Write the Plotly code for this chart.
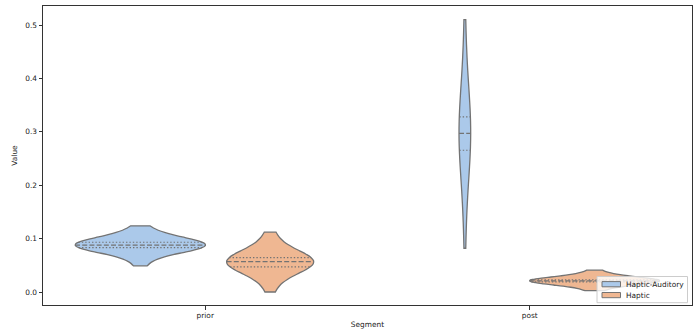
import numpy as np
import plotly.graph_objects as go

# ---------------- data ----------------
segments = ["prior", "post"]
groups = ["Haptic-Auditory", "Haptic"]

ha_prior = [0.049, 0.066, 0.072, 0.077, 0.080, 0.082, 0.0835, 0.085, 0.086, 0.087,
            0.0875, 0.0878, 0.0882, 0.089, 0.090, 0.091, 0.092, 0.093, 0.094, 0.097,
            0.101, 0.106, 0.112, 0.124]
h_prior = [0.000, 0.022, 0.031, 0.038, 0.042, 0.045, 0.048, 0.050, 0.052, 0.054,
           0.055, 0.0565, 0.0575, 0.059, 0.060, 0.062, 0.063, 0.064, 0.066, 0.070,
           0.076, 0.084, 0.094, 0.112]
ha_post = [0.082, 0.150, 0.185, 0.215, 0.240, 0.258, 0.268, 0.276, 0.283, 0.289,
           0.294, 0.296, 0.298, 0.303, 0.309, 0.316, 0.322, 0.326, 0.334, 0.352,
           0.378, 0.405, 0.440, 0.510]
h_post = [0.0025, 0.0085, 0.012, 0.0145, 0.0165, 0.0185, 0.0192, 0.0198, 0.0202, 0.0206,
          0.0209, 0.0210, 0.0211, 0.0214, 0.0218, 0.0221, 0.0223, 0.0225, 0.0232, 0.0250,
          0.0275, 0.0300, 0.0340, 0.0410]

y_ticks = [0.0, 0.1, 0.2, 0.3, 0.4, 0.5]
y_tick_labels = ["0.0", "0.1", "0.2", "0.3", "0.4", "0.5"]

values = {
    ("Haptic-Auditory", "prior"): ha_prior,
    ("Haptic", "prior"): h_prior,
    ("Haptic-Auditory", "post"): ha_post,
    ("Haptic", "post"): h_post,
}

# ---------------- style ----------------
FONT = "DejaVu Sans"
FS = 7.4
TXT = "#222222"
fill_colors = {"Haptic-Auditory": "#abc9ea", "Haptic": "#efb792"}
line_color = "#737373"
dodge = {"Haptic-Auditory": -0.2, "Haptic": 0.2}
violin_width = {
    ("Haptic-Auditory", "prior"): 0.40,
    ("Haptic", "prior"): 0.267,
    ("Haptic-Auditory", "post"): 0.036,
    ("Haptic", "post"): 0.40,
}
bandwidth = {
    ("Haptic-Auditory", "prior"): 0.0125,
    ("Haptic", "prior"): 0.018,
    ("Haptic-Auditory", "post"): 0.075,
    ("Haptic", "post"): 0.0066,
}


def rel_density(vals, bw, ys):
    """Relative KDE width, following plotly.js violin sampling (hard span)."""
    v = np.asarray(vals, dtype=float)
    lo, hi = v.min(), v.max()
    n = int(np.ceil((hi - lo) / (bw / 3.0)))
    grid = lo + (hi - lo) / n * np.arange(n + 1)

    def kde(t):
        t = np.atleast_1d(np.asarray(t, dtype=float))
        return np.exp(-0.5 * ((t[:, None] - v[None, :]) / bw) ** 2).sum(axis=1)

    return kde(ys) / kde(grid).max()


fig = go.Figure()

# violin bodies
for si, seg in enumerate(segments):
    for g in groups:
        key = (g, seg)
        fig.add_trace(go.Violin(
            y=values[key],
            x0=si + dodge[g],
            name=g,
            showlegend=False,
            width=violin_width[key],
            bandwidth=bandwidth[key],
            spanmode="hard",
            scalemode="width",
            side="both",
            points=False,
            box_visible=False,
            meanline_visible=False,
            fillcolor=fill_colors[g],
            line=dict(color=line_color, width=1.3),
            opacity=1,
            hoverinfo="skip",
        ))

# inner quartile lines
for si, seg in enumerate(segments):
    for g in groups:
        key = (g, seg)
        qs = np.percentile(values[key], [25, 50, 75])
        rel = rel_density(values[key], bandwidth[key], qs)
        c = si + dodge[g]
        for q, r, dash in zip(qs, rel, ["1.4px,2px", "5px,2.2px", "1.4px,2px"]):
            hw = violin_width[key] / 2 * r
            fig.add_trace(go.Scatter(
                x=[c - hw, c + hw], y=[q, q], mode="lines",
                line=dict(color=line_color, width=1.2, dash=dash),
                showlegend=False, hoverinfo="skip",
            ))

# legend (matplotlib style: small box in the lower-right corner)
L, R, T, B = 43, 7, 6, 27
W, H = 699 - L - R, 332 - T - B


def px_x(p):
    return (p - L) / W


def px_y(p):
    return (332 - B - p) / H


shapes = [dict(type="rect", xref="paper", yref="paper",
               x0=px_x(597), x1=px_x(687.5), y0=px_y(302.7), y1=px_y(276.5),
               fillcolor="rgba(255,255,255,0.8)", line=dict(color="#cccccc", width=1),
               layer="above")]
annotations = []
for i, g in enumerate(groups):
    yc = 284.2 + i * 10.9
    shapes.append(dict(type="rect", xref="paper", yref="paper",
                       x0=px_x(602), x1=px_x(620.5), y0=px_y(yc + 2.6), y1=px_y(yc - 2.6),
                       fillcolor=fill_colors[g], line=dict(color=line_color, width=1),
                       layer="above"))
    annotations.append(dict(xref="paper", yref="paper", x=px_x(623.5), y=px_y(yc),
                            xanchor="left", yanchor="middle", text=g, showarrow=False,
                            font=dict(family=FONT, size=FS, color=TXT)))

axis_common = dict(
    showline=True, mirror=True, linecolor="#333333", linewidth=1,
    ticks="outside", ticklen=3.5, tickwidth=0.8, tickcolor="#333333",
    showgrid=False, zeroline=False, automargin=False,
    tickfont=dict(family=FONT, size=FS, color=TXT),
)

fig.update_layout(
    width=699, height=332,
    margin=dict(l=L, r=R, t=T, b=B, autoexpand=False),
    paper_bgcolor="white", plot_bgcolor="white",
    font=dict(family=FONT, size=FS, color=TXT),
    violinmode="overlay",
    showlegend=False,
    xaxis=dict(
        range=[-0.5, 1.5], tickvals=[0, 1], ticktext=segments,
        title=dict(text="Segment", font=dict(family=FONT, size=FS), standoff=2),
        **axis_common,
    ),
    yaxis=dict(
        range=[-0.0243, 0.5356], tickvals=y_ticks, ticktext=y_tick_labels,
        title=dict(text="Value", font=dict(family=FONT, size=FS), standoff=6),
        **axis_common,
    ),
    shapes=shapes,
    annotations=annotations,
)

fig.write_html("out.html", config={"displayModeBar": False},
               post_script="document.body.style.margin='0px';")
